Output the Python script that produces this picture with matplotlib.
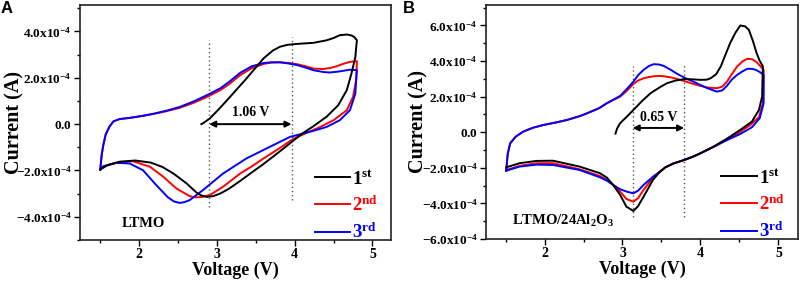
import numpy as np
import matplotlib
matplotlib.use("Agg")
import matplotlib.pyplot as plt
from matplotlib.ticker import MultipleLocator, FixedLocator, FixedFormatter

plt.rcParams.update({
    "font.family": ["Liberation Serif", "DejaVu Serif"],
    "font.weight": "bold",
    "mathtext.fontset": "custom",
    "mathtext.rm": "Liberation Serif",
    "mathtext.bf": "Liberation Serif:bold",
    "mathtext.it": "Liberation Serif:italic",
})

SCALE = 1e-4  # currents below are in units of 1e-4 A

# ---------------- Panel A: LTMO ----------------
a1_v = [2.80, 2.84, 2.91, 3.04, 3.17, 3.38, 3.60, 3.72, 3.81, 3.90, 3.98, 4.10, 4.24, 4.41, 4.50, 4.58, 4.67,
        4.73, 4.77, 4.80, 4.79, 4.78, 4.73, 4.67, 4.56, 4.41, 4.24, 4.10, 3.98, 3.80, 3.60, 3.45, 3.30,
        3.15, 3.04, 2.95, 2.87, 2.80, 2.74, 2.61, 2.44, 2.30, 2.15, 1.95, 1.75, 1.60, 1.50]
a1_i = [0.00, 0.08, 0.25, 0.70, 1.18, 1.97, 2.84, 3.18, 3.34, 3.42, 3.45, 3.48, 3.51, 3.62, 3.72, 3.84, 3.87,
        3.83, 3.75, 3.62, 3.30, 2.90, 2.19, 1.47, 0.82, 0.32, -0.09, -0.40, -0.72, -1.20, -1.72, -2.08, -2.45,
        -2.80, -3.00, -3.11, -3.14, -3.08, -2.96, -2.56, -2.13, -1.85, -1.66, -1.57, -1.62, -1.76, -1.96]

a_anodic_v = [1.50, 1.52, 1.54, 1.57, 1.62, 1.67, 1.75, 1.88, 2.05, 2.20, 2.35, 2.52, 2.70, 2.89, 3.05, 3.17,
              3.30, 3.45, 3.60, 3.70, 3.81, 3.92, 4.03, 4.14, 4.24, 4.37, 4.45, 4.54, 4.62, 4.71, 4.80]
a2_anodic_i = [-1.96, -1.30, -0.90, -0.45, -0.10, 0.12, 0.22, 0.27, 0.36, 0.45, 0.56, 0.70, 0.92, 1.20, 1.48,
               1.76, 2.12, 2.42, 2.60, 2.66, 2.67, 2.64, 2.59, 2.50, 2.40, 2.38, 2.42, 2.50, 2.60, 2.69, 2.72]
a3_anodic_i = [-1.96, -1.30, -0.90, -0.45, -0.10, 0.12, 0.22, 0.27, 0.36, 0.46, 0.58, 0.74, 0.98, 1.28, 1.56,
               1.86, 2.22, 2.50, 2.64, 2.67, 2.67, 2.62, 2.55, 2.44, 2.33, 2.25, 2.23, 2.26, 2.30, 2.35, 2.33]

a2_cath_v = [4.80, 4.79, 4.75, 4.67, 4.50, 4.33, 4.15, 3.98, 3.80, 3.60, 3.45, 3.30, 3.08, 2.91, 2.80, 2.72,
             2.65, 2.48, 2.31, 2.14, 1.92, 1.71, 1.54, 1.50]
a2_cath_i = [2.72, 1.90, 1.18, 0.60, 0.17, -0.12, -0.38, -0.64, -1.05, -1.48, -1.82, -2.13, -2.70, -3.06,
             -3.15, -3.16, -3.11, -2.78, -2.27, -1.84, -1.60, -1.67, -1.82, -1.96]
a3_cath_v = [4.80, 4.79, 4.78, 4.71, 4.58, 4.41, 4.24, 3.94, 3.68, 3.38, 3.08, 2.82, 2.65, 2.58, 2.52, 2.45,
             2.37, 2.22, 2.05, 1.88, 1.71, 1.54, 1.50]
a3_cath_i = [2.33, 1.90, 1.32, 0.60, 0.17, -0.12, -0.29, -0.55, -0.98, -1.48, -2.13, -2.85, -3.28, -3.37,
             -3.40, -3.34, -3.16, -2.63, -1.99, -1.70, -1.67, -1.82, -1.96]

# ---------------- Panel B: LTMO/24Al2O3 ----------------
b1_v = [2.91, 2.93, 2.97, 3.05, 3.14, 3.25, 3.36, 3.47, 3.57, 3.68, 3.79, 3.90, 4.00, 4.08, 4.13, 4.20, 4.26,
        4.32, 4.38, 4.45, 4.51, 4.57, 4.62, 4.67, 4.72, 4.76, 4.80, 4.79, 4.75, 4.66, 4.51, 4.34, 4.17, 4.00,
        3.90, 3.79, 3.65, 3.55, 3.48, 3.39, 3.27, 3.20, 3.14, 3.05, 2.97, 2.88, 2.80, 2.71, 2.45, 2.11, 1.90,
        1.68, 1.51]
b1_i = [-0.08, 0.20, 0.51, 0.85, 1.25, 1.75, 2.19, 2.50, 2.75, 2.90, 2.98, 2.97, 2.94, 2.95, 3.03, 3.25, 3.69,
        4.35, 5.00, 5.60, 5.99, 5.95, 5.75, 5.15, 4.44, 4.00, 3.70, 2.00, 1.25, 0.60, 0.13, -0.36, -0.80, -1.18,
        -1.38, -1.56, -1.76, -1.97, -2.22, -2.68, -3.62, -4.15, -4.42, -4.18, -3.52, -2.96, -2.55, -2.30, -1.93,
        -1.60, -1.61, -1.74, -1.97]

b_anodic_v = [1.51, 1.52, 1.53, 1.56, 1.63, 1.73, 1.85, 1.99, 2.15, 2.29, 2.45, 2.55, 2.70, 2.80, 2.97, 3.05,
              3.14, 3.20, 3.27, 3.34, 3.40, 3.47, 3.53, 3.62, 3.70, 3.80, 3.91, 4.00, 4.09, 4.21, 4.28, 4.34,
              4.40, 4.47, 4.54, 4.60, 4.66, 4.71, 4.76, 4.81]
b2_anodic_i = [-2.12, -1.60, -1.18, -0.62, -0.25, 0.04, 0.25, 0.41, 0.55, 0.69, 0.90, 1.07, 1.35, 1.63, 2.00,
               2.30, 2.71, 2.90, 3.03, 3.10, 3.14, 3.16, 3.14, 3.08, 2.99, 2.86, 2.71, 2.60, 2.51, 2.47, 2.56,
               2.84, 3.25, 3.69, 3.98, 4.12, 4.10, 3.97, 3.75, 3.50]
b3_anodic_i = [-2.16, -1.60, -1.18, -0.62, -0.25, 0.04, 0.25, 0.41, 0.55, 0.69, 0.90, 1.07, 1.35, 1.63, 2.04,
               2.40, 2.84, 3.20, 3.50, 3.72, 3.82, 3.80, 3.72, 3.50, 3.28, 3.05, 2.84, 2.65, 2.47, 2.28, 2.35,
               2.61, 2.95, 3.22, 3.42, 3.56, 3.56, 3.50, 3.38, 3.22]

b2_cath_v = [4.81, 4.80, 4.75, 4.64, 4.51, 4.34, 4.17, 4.00, 3.90, 3.79, 3.65, 3.55, 3.48, 3.39, 3.27, 3.20,
             3.14, 3.05, 2.97, 2.88, 2.80, 2.71, 2.45, 2.11, 1.90, 1.68, 1.51]
b2_cath_i = [3.50, 1.63, 0.85, 0.41, 0.03, -0.41, -0.82, -1.18, -1.38, -1.56, -1.76, -1.97, -2.20, -2.55,
             -3.24, -3.70, -3.90, -3.75, -3.33, -2.96, -2.68, -2.46, -2.08, -1.74, -1.74, -1.89, -2.12]
b3_cath_v = [4.81, 4.81, 4.76, 4.66, 4.51, 4.34, 4.17, 4.00, 3.90, 3.79, 3.65, 3.55, 3.48, 3.39, 3.27, 3.20,
             3.14, 3.05, 2.97, 2.88, 2.80, 2.71, 2.45, 2.11, 1.90, 1.68, 1.51]
b3_cath_i = [3.22, 1.63, 0.79, 0.28, -0.10, -0.44, -0.82, -1.18, -1.38, -1.56, -1.76, -1.97, -2.22, -2.50,
             -2.96, -3.28, -3.43, -3.33, -3.20, -2.96, -2.72, -2.53, -2.12, -1.84, -1.82, -1.93, -2.16]

cycle_labels = [r"$\mathbf{1^{st}}$", r"$\mathbf{2^{nd}}$", r"$\mathbf{3^{rd}}$"]
cycle_colors = ["#000000", "#ff0000", "#0000ff"]

a_yticks = [-4, -2, 0, 2, 4]
a_yticklabels = [r"$\mathbf{-4.0x10^{-4}}$", r"$\mathbf{-2.0x10^{-4}}$", r"$\mathbf{0.0}$",
                 r"$\mathbf{2.0x10^{-4}}$", r"$\mathbf{4.0x10^{-4}}$"]
b_yticks = [-6, -4, -2, 0, 2, 4, 6]
b_yticklabels = [r"$\mathbf{-6.0x10^{-4}}$", r"$\mathbf{-4.0x10^{-4}}$", r"$\mathbf{-2.0x10^{-4}}$",
                 r"$\mathbf{0.0}$", r"$\mathbf{2.0x10^{-4}}$", r"$\mathbf{4.0x10^{-4}}$",
                 r"$\mathbf{6.0x10^{-4}}$"]
xticks = [2, 3, 4, 5]

a_marks = [2.90, 3.96]
a_gap_text = "1.06 V"
b_marks = [3.13, 3.79]
b_gap_text = "0.65 V"

fig = plt.figure(figsize=(8.04, 2.86), dpi=100)
axA = fig.add_axes([0.0995, 0.161, 0.387, 0.822])
axB = fig.add_axes([0.6045, 0.164, 0.388, 0.819])

LW = 1.4


def style(ax, yticks, ylabels, ylim, xlim, ylab_x):
    ax.set_xlim(*xlim)
    ax.set_ylim(ylim[0] * SCALE, ylim[1] * SCALE)
    ax.yaxis.set_major_locator(FixedLocator([t * SCALE for t in yticks]))
    ax.yaxis.set_major_formatter(FixedFormatter(ylabels))
    ax.yaxis.set_minor_locator(MultipleLocator(1 * SCALE))
    ax.xaxis.set_major_locator(FixedLocator(xticks))
    ax.xaxis.set_minor_locator(MultipleLocator(0.5))
    ax.tick_params(which="major", direction="out", length=4, width=1.0, labelsize=9.5, pad=2)
    ax.tick_params(which="minor", direction="out", length=2.2, width=1.0)
    for lab in ax.get_xticklabels():
        lab.set_fontweight("bold")
        lab.set_fontsize(10)
    for sp in ax.spines.values():
        sp.set_linewidth(1.2)
        sp.set_color("#222222")
    ax.set_xlabel("Voltage (V)", fontsize=13, fontweight="bold", labelpad=0)
    ax.set_ylabel("Current (A)", fontsize=14.5, fontweight="bold")
    ax.yaxis.set_label_coords(ylab_x, 0.5)


def legend(ax):
    ax.legend(loc="lower right", bbox_to_anchor=(1.0, -0.065), frameon=False, handlelength=1.9,
              handletextpad=0.1, labelspacing=0.42, labelcolor="linecolor", fontsize=13.5,
              borderaxespad=0.3)


# Panel A curves
axA.plot(a1_v, np.array(a1_i) * SCALE, color=cycle_colors[0], lw=LW, label=cycle_labels[0], zorder=3)
axA.plot(a_anodic_v + a2_cath_v, np.array(a2_anodic_i + a2_cath_i) * SCALE, color=cycle_colors[1], lw=LW,
         label=cycle_labels[1], zorder=2)
axA.plot(a_anodic_v + a3_cath_v, np.array(a3_anodic_i + a3_cath_i) * SCALE, color=cycle_colors[2], lw=LW,
         label=cycle_labels[2], zorder=2.5)
style(axA, a_yticks, a_yticklabels, (-5.0, 5.15), (1.24, 5.24), -0.178)
axA.vlines(a_marks[0], -3.58 * SCALE, 3.62 * SCALE, colors="#555555", linestyles=(0, (1, 2)), lw=1)
axA.vlines(a_marks[1], -3.28 * SCALE, 3.77 * SCALE, colors="#555555", linestyles=(0, (1, 2)), lw=1)
axA.annotate("", xy=(a_marks[1], 0), xytext=(a_marks[0], 0),
             arrowprops=dict(arrowstyle="<|-|>", color="black", lw=1.4, mutation_scale=9,
                             shrinkA=0, shrinkB=0))
axA.text(sum(a_marks) / 2, 0.22 * SCALE, a_gap_text, ha="center", va="bottom", fontsize=10,
         fontweight="bold")
axA.text(1.78, -4.27 * SCALE, "LTMO", ha="left", va="center", fontsize=10.5, fontweight="bold")
legend(axA)

# Panel B curves
axB.plot(b1_v, np.array(b1_i) * SCALE, color=cycle_colors[0], lw=LW, label=cycle_labels[0], zorder=3)
axB.plot(b_anodic_v + b2_cath_v, np.array(b2_anodic_i + b2_cath_i) * SCALE, color=cycle_colors[1], lw=LW,
         label=cycle_labels[1], zorder=2)
axB.plot(b_anodic_v + b3_cath_v, np.array(b3_anodic_i + b3_cath_i) * SCALE, color=cycle_colors[2], lw=LW,
         label=cycle_labels[2], zorder=2.5)
style(axB, b_yticks, b_yticklabels, (-6.0, 7.15), (1.25, 5.25), -0.185)
axB.vlines(b_marks[0], -4.74 * SCALE, 3.69 * SCALE, colors="#555555", linestyles=(0, (1, 2)), lw=1)
axB.vlines(b_marks[1], -4.74 * SCALE, 3.88 * SCALE, colors="#555555", linestyles=(0, (1, 2)), lw=1)
axB.annotate("", xy=(b_marks[1], 0.24 * SCALE), xytext=(b_marks[0], 0.24 * SCALE),
             arrowprops=dict(arrowstyle="<|-|>", color="black", lw=1.4, mutation_scale=9,
                             shrinkA=0, shrinkB=0))
axB.text(sum(b_marks) / 2, 0.45 * SCALE, b_gap_text, ha="center", va="bottom", fontsize=10,
         fontweight="bold")
axB.text(1.58, -5.0 * SCALE, r"$\mathbf{LTMO/24Al_2O_3}$", ha="left", va="center", fontsize=10.5)
legend(axB)

fig.text(0.001, 0.995, "A", fontfamily="Liberation Sans", fontweight="bold", fontsize=12, va="top", ha="left")
fig.text(0.501, 0.995, "B", fontfamily="Liberation Sans", fontweight="bold", fontsize=12, va="top", ha="left")

fig.savefig("out.png", dpi=100)
